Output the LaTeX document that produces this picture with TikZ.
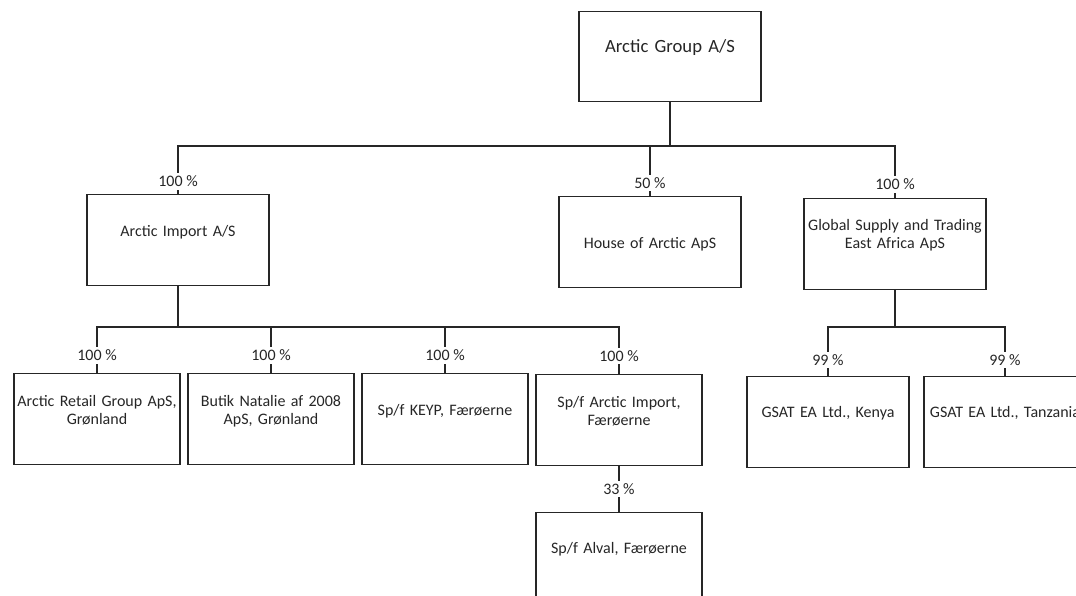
\documentclass[tikz,border=0pt]{standalone}
\usepackage{fontspec}
\setmainfont{Carlito}

\begin{document}
\begin{tikzpicture}[x=0.75pt, y=-0.75pt]

% definitions
\tikzstyle{holding} = [rectangle, draw=black!85, line width=1pt, text centered, text width=136.5pt, inner sep=0pt, text height=30.75pt, text depth=36.75pt, text=black!85, font=\fontsize{14}{16}\selectfont]

\tikzstyle{company} = [rectangle, draw=black!85, line width=1pt, text centered, text width=136.5pt, inner sep=0pt, text height=31.5pt, text depth=36.75pt, text=black!85, font=\fontsize{12}{13.5}\selectfont]

\tikzstyle{subsidiary} = [rectangle, draw=black!85, line width=1pt, text centered, text width=124.5pt, inner sep=0pt, text height=30.75pt, text depth=37.5pt, text=black!85, font=\fontsize{12}{13.5}\selectfont]

\tikzstyle{twolines} = [text height=24.75pt, text depth=43.5pt]

\tikzstyle{share} = [fill=white, inner sep=2pt, text=black!85, font=\fontsize{12}{13.5}\selectfont]

\tikzstyle{link} = [draw=black!85, line width=1.3pt]

\useasboundingbox (0,0) rectangle (1076,596);
\clip (0,0) rectangle (1076,596);

% the graph
\node (ag) [holding, anchor=north] at (670,11) {Arctic Group A/S};

\node (ai) [company, anchor=north] at (178,194) {Arctic Import A/S};

\node (ha) [company, anchor=north, text height=39pt, text depth=29.25pt] at (650,196) {House of Arctic ApS};

\node (gs) [company, anchor=north, text height=24pt, text depth=44.25pt] at (895,198) {Global Supply and Trading\\East Africa ApS};

\node (ar) [subsidiary, twolines, anchor=north] at (97,373) {Arctic Retail Group ApS,\\Grønland};

\node (bn) [subsidiary, twolines, anchor=north] at (271,373) {Butik Natalie af 2008\\ApS, Grønland};

\node (ke) [subsidiary, anchor=north, text height=31.5pt, text depth=36.75pt] at (445,373) {Sp/f KEYP, Færøerne};

\node (sa) [subsidiary, twolines, anchor=north] at (619,374) {Sp/f Arctic Import,\\Færøerne};

\node (al) [subsidiary, anchor=north] at (619,512) {Sp/f Alval, Færøerne};

\node (gk) [subsidiary, anchor=north, text width=121.5pt] at (828,376) {GSAT EA Ltd., Kenya};

\node (gt) [subsidiary, anchor=north, text width=121.5pt] at (1005,376) {GSAT EA Ltd., Tanzania};

\coordinate (j0) at (670,146);
\coordinate (j1) at (178,327);
\coordinate (j2) at (895,327);

\draw [link] (ag) -- (j0);
\draw [link] (j0) -| node [share, pos=0.87] {100 \%} (ai.north);
\draw [link] (j0) -| node [share, pos=0.87] {50 \%} (ha.north);
\draw [link] (j0) -| node [share, pos=0.87] {100 \%} (gs.north);

\draw [link] (ai) -- (j1);
\draw [link] (j1) -| node [share, pos=0.81] {100 \%} (ar.north);
\draw [link] (j1) -| node [share, pos=0.81] {100 \%} (bn.north);
\draw [link] (j1) -| node [share, pos=0.81] {100 \%} (ke.north);
\draw [link] (j1) -| node [share, pos=0.81] {100 \%} (sa.north);

\draw [link] (gs) -- (j2);
\draw [link] (j2) -| node [share, pos=0.835] {99 \%} (gk.north);
\draw [link] (j2) -| node [share, pos=0.835] {99 \%} (gt.north);

\draw [link] (sa) -- node [share] {33 \%} (al);

\end{tikzpicture}
\end{document}
